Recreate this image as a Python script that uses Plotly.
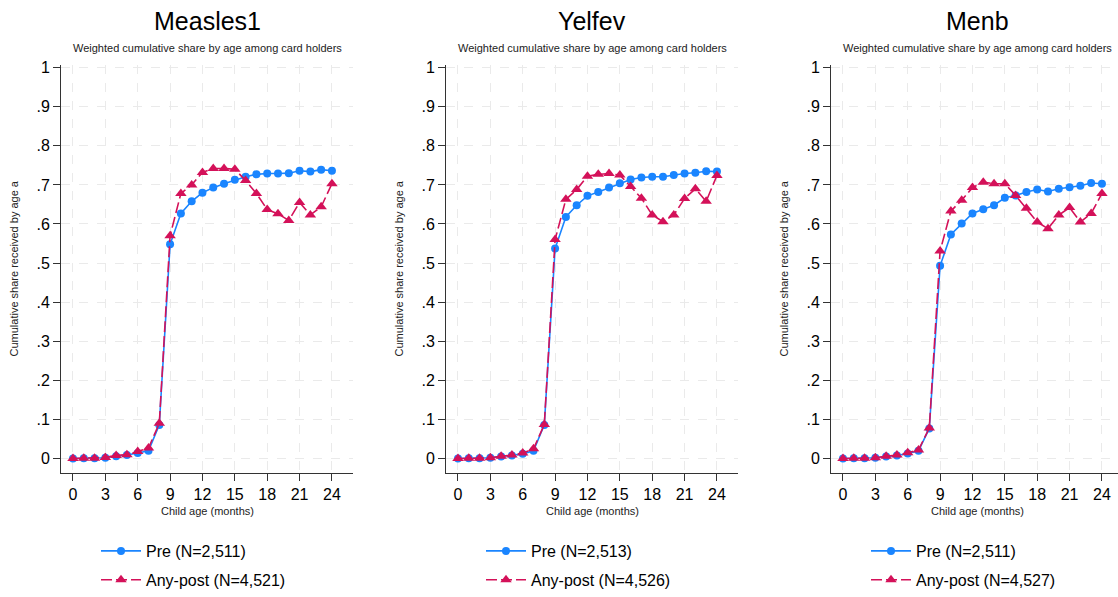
import plotly.graph_objects as go

months = list(range(25))

panel_titles = ["Measles1", "Yelfev", "Menb"]
subtitle = "Weighted cumulative share by age among card holders"

measles1_pre = [0.000, 0.001, 0.001, 0.002, 0.006, 0.009, 0.014, 0.020, 0.086, 0.548, 0.627, 0.658, 0.680, 0.693,
                0.703, 0.713, 0.721, 0.727, 0.729, 0.729, 0.730, 0.736, 0.734, 0.739, 0.736]
measles1_post = [0.000, 0.001, 0.001, 0.003, 0.008, 0.010, 0.018, 0.027, 0.090, 0.570, 0.678, 0.700, 0.732, 0.742,
                 0.742, 0.740, 0.711, 0.678, 0.637, 0.626, 0.609, 0.655, 0.623, 0.644, 0.703]

yelfev_pre = [0.000, 0.001, 0.001, 0.002, 0.005, 0.008, 0.012, 0.020, 0.086, 0.537, 0.618, 0.648, 0.672, 0.682,
              0.693, 0.704, 0.714, 0.719, 0.721, 0.721, 0.725, 0.729, 0.731, 0.735, 0.734]
yelfev_post = [0.000, 0.001, 0.001, 0.002, 0.006, 0.009, 0.014, 0.025, 0.087, 0.560, 0.663, 0.688, 0.722, 0.727,
               0.729, 0.725, 0.696, 0.666, 0.623, 0.606, 0.623, 0.665, 0.690, 0.658, 0.724]

menb_pre = [0.000, 0.001, 0.001, 0.002, 0.005, 0.008, 0.013, 0.020, 0.077, 0.493, 0.573, 0.601, 0.627, 0.638,
            0.648, 0.667, 0.673, 0.682, 0.688, 0.683, 0.690, 0.694, 0.698, 0.705, 0.703]
menb_post = [0.000, 0.001, 0.001, 0.002, 0.006, 0.009, 0.015, 0.022, 0.078, 0.531, 0.633, 0.661, 0.693, 0.707,
             0.703, 0.703, 0.673, 0.640, 0.605, 0.588, 0.623, 0.642, 0.605, 0.627, 0.678]

pre_names = ["Pre (N=2,511)", "Pre (N=2,513)", "Pre (N=2,511)"]
post_names = ["Any-post (N=4,521)", "Any-post (N=4,526)", "Any-post (N=4,527)"]

x_ticks = [0, 3, 6, 9, 12, 15, 18, 21, 24]
y_ticks = [0, 0.1, 0.2, 0.3, 0.4, 0.5, 0.6, 0.7, 0.8, 0.9, 1.0]
y_ticktext = ["0", ".1", ".2", ".3", ".4", ".5", ".6", ".7", ".8", ".9", "1"]

pre_series = [measles1_pre, yelfev_pre, menb_pre]
post_series = [measles1_post, yelfev_post, menb_post]

BLUE = "#1A85FF"
RED = "#D41159"
FONT = "Liberation Sans, Arial, Helvetica, sans-serif"

W, H = 1118, 597


def fx(px):
    return px / W


def fy(py):
    return 1 - py / H


# pixel layout of each panel's plot area
left_px = [61, 446, 831]
right_px = [353, 738, 1118]
top_px, bottom_px = 66, 483

fig = go.Figure()
legend_ids = ["legend", "legend2", "legend3"]

for i in range(3):
    xa = "x" if i == 0 else f"x{i+1}"
    ya = "y" if i == 0 else f"y{i+1}"
    fig.add_trace(go.Scatter(
        x=months, y=pre_series[i], mode="lines+markers", name=pre_names[i],
        line=dict(color=BLUE, width=1.6),
        marker=dict(symbol="circle", size=8, color=BLUE),
        xaxis=xa, yaxis=ya, legend=legend_ids[i], legendgroup=f"pre{i}",
    ))
    fig.add_trace(go.Scatter(
        x=months, y=post_series[i], mode="lines+markers", name=post_names[i],
        line=dict(color=RED, width=1.6, dash="11px,4px"),
        marker=dict(symbol="triangle-up", size=10, color=RED),
        xaxis=xa, yaxis=ya, legend=legend_ids[i], legendgroup=f"post{i}",
    ))

layout = dict(
    width=W, height=H,
    margin=dict(l=0, r=0, t=0, b=0),
    paper_bgcolor="white", plot_bgcolor="white",
    font=dict(family=FONT, color="black"),
    showlegend=True,
    annotations=[],
)

for i in range(3):
    sfx = "" if i == 0 else str(i + 1)
    x0 = fx(left_px[i])
    x1 = min(fx(right_px[i]), 1.0)
    y0 = fy(bottom_px)
    y1 = fy(top_px)
    xrange_max = -1.11 + (right_px[i] - left_px[i]) / 10.79
    layout["xaxis" + sfx] = dict(
        domain=[x0, x1], anchor="y" + sfx, range=[-1.11, xrange_max],
        tickmode="array", tickvals=x_ticks, ticktext=[str(t) for t in x_ticks],
        showgrid=True, gridcolor="#EAEAEA", griddash="dash", gridwidth=1,
        showline=True, linecolor="#333333", linewidth=1,
        ticks="outside", ticklen=7, tickcolor="#333333",
        tickfont=dict(size=16, family=FONT), zeroline=False, automargin=False,
    )
    layout["yaxis" + sfx] = dict(
        domain=[y0, y1], anchor="x" + sfx, range=[-0.0377, 1.0075],
        tickmode="array", tickvals=y_ticks, ticktext=y_ticktext,
        showgrid=True, gridcolor="#EAEAEA", griddash="dash", gridwidth=1,
        showline=True, linecolor="#333333", linewidth=1,
        ticks="outside", ticklen=7, tickcolor="#333333",
        tickfont=dict(size=16, family=FONT), zeroline=False, automargin=False,
    )
    cx = fx(left_px[i] + 146)
    layout["annotations"] += [
        dict(text=panel_titles[i], x=cx, y=fy(21), xref="paper", yref="paper",
             xanchor="center", yanchor="middle", showarrow=False,
             font=dict(size=25, family=FONT, color="black")),
        dict(text=subtitle, x=cx, y=fy(49), xref="paper", yref="paper",
             xanchor="center", yanchor="middle", showarrow=False,
             font=dict(size=11, family=FONT, color="#222222")),
        dict(text="Child age (months)", x=cx, y=fy(521), xref="paper", yref="paper",
             xanchor="center", yanchor="middle", showarrow=False,
             font=dict(size=11, family=FONT, color="#222222")),
        dict(text="Cumulative share received by age a", x=fx(left_px[i] - 47),
             y=fy(274), xref="paper", yref="paper", textangle=-90,
             xanchor="center", yanchor="middle", showarrow=False,
             font=dict(size=11, family=FONT, color="#222222")),
    ]
    layout[legend_ids[i]] = dict(
        x=fx(left_px[i] + 35), y=fy(545), xanchor="left", yanchor="top",
        orientation="v", bgcolor="rgba(0,0,0,0)", borderwidth=0,
        font=dict(size=16, family=FONT, color="black"),
        tracegroupgap=5, itemwidth=40,
    )

fig.update_layout(**layout)
fig.write_html(
    "out.html",
    config={"displayModeBar": False},
    post_script="document.body.style.margin='0';document.body.style.overflow='hidden';",
)
